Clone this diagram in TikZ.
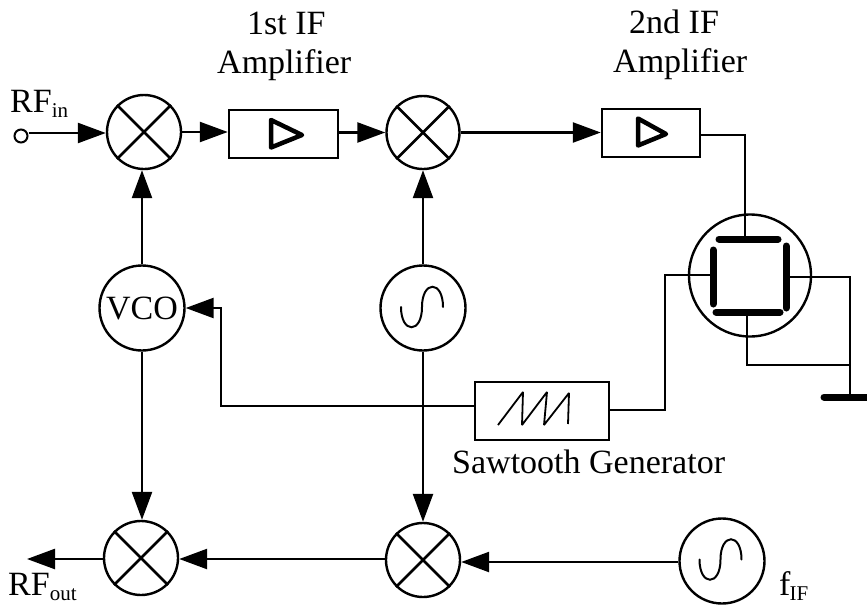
\documentclass[tikz,border=0pt]{standalone}
\usepackage{fontspec}
\setmainfont{Liberation Serif}
\usetikzlibrary{arrows.meta,calc}
\newcommand{\subt}[1]{\raisebox{-5pt}{\fontsize{21}{21}\selectfont #1}}
\tikzset{
  wire/.style={line width=2.5pt,line join=miter},
  arrowwire/.style={wire,-{Triangle[length=28pt,width=20pt]}},
  ring/.style={circle,draw,line width=2.4pt,inner sep=0pt,minimum size=#1},
  ampbox/.style={rectangle,draw,line width=2.5pt,inner sep=0pt},
  plate/.style={line width=7pt,line cap=round},
  lab/.style={inner sep=0pt,font=\fontsize{34}{34}\selectfont,anchor=base},
  tri/.style={line width=4.5pt,line join=round},
}
\newcommand{\crossring}[1]{%
  \draw[wire] (#1.45) -- (#1.225) (#1.135) -- (#1.315);}
\newcommand{\sine}[2]{%
  \draw[line width=2pt,line cap=round] (#1-21,#2) .. controls (#1-21,#2+27) and (#1,#2+27) .. (#1,#2) .. controls (#1,#2-27) and (#1+21,#2-27) .. (#1+21,#2);}
\begin{document}
\begin{tikzpicture}[x=1pt,y=-1pt]
\useasboundingbox (0,0) rectangle (867,605);
% mixers and sources
\node[ring=74pt] (m1) at (144,132) {};
\node[ring=73pt] (m2) at (423,132.5) {};
\node[ring=74pt] (m3) at (141,558) {};
\node[ring=74pt] (m4) at (423,560) {};
\node[ring=85pt,font=\fontsize{34}{34}\selectfont] (vco) at (142,308) {VCO};
\node[ring=85pt] (osc) at (423,308) {};
\node[ring=85pt] (oscb) at (722,561) {};
\crossring{m1}\crossring{m2}\crossring{m3}\crossring{m4}
\sine{422}{307}
\sine{720.5}{559.5}
% boxes
\node[ampbox,minimum width=109pt,minimum height=48pt] (amp1) at (283.5,134) {};
\node[ampbox,minimum width=98pt,minimum height=48pt] (amp2) at (651,133) {};
\node[ampbox,minimum width=134pt,minimum height=58pt] (saw) at (542,411) {};
\draw[tri] (271,120) -- (302,135) -- (271,147.5) -- cycle;
\draw[tri] (638,118.5) -- (666,134) -- (638,145.5) -- cycle;
\draw[line width=1.8pt,line join=bevel] (498,425) -- (523,392) -- (522,425) -- (547,392) -- (544,425) -- (569,393) -- (568,424);
% input terminal
\node[circle,draw,line width=2pt,inner sep=0pt,minimum size=13pt] (rfin) at (21,136) {};
% CRT
\node[ring=122pt] (crt) at (750,275.5) {};
\coordinate (pt) at (745,239);
\coordinate (pb) at (747,312);
\coordinate (pl) at (713,275);
\coordinate (pr) at (786,277);
\draw[plate] (719,239) -- (778,239);
\draw[plate] (716,312) -- (780,312);
\draw[plate] (713,250) -- (713,304);
\draw[plate] (786,246) -- (786,308);
\coordinate (gnd) at (850,397);
\draw[plate] (824,397) -- (875,397);
% signal path
\draw[arrowwire] (rfin.east |- 0,133) -- (m1.west |- 0,133);
\draw[arrowwire] (m1.east) -- (amp1.west |- m1.east);
\draw[arrowwire] (amp1.east |- m2.west) -- (m2.west);
\draw[arrowwire] (m2.east) -- (amp2.west |- m2.east);
\draw[arrowwire] (vco.north) -- (vco.north |- m1.south);
\draw[arrowwire] (osc.north) -- (m2.south);
\draw[arrowwire] (vco.south) -- (vco.south |- m3.north);
\draw[arrowwire] (osc.south) -- (m4.north);
\draw[arrowwire] (oscb.west |- 0,562) -- (m4.east |- 0,562);
\draw[arrowwire] (m4.west |- 0,559) -- (m3.east |- 0,559);
\coordinate (outend) at (27,559);
\draw[arrowwire] (m3.west |- outend) -- (outend);
% sweep
\coordinate (sweepin) at (vco.east);
\draw[arrowwire] (saw.west |- 0,406) -| (221,308) -- (sweepin);
\coordinate (sawcorner) at (665,410);
\draw[wire] (saw.east |- sawcorner) -- (sawcorner) |- (pl);
\draw[wire] (amp2.east |- 0,135) -| (pt);
\draw[wire] (pr) -| (gnd);
\draw[wire] (pb) |- (850,365);
% labels
\node[lab,anchor=base west] (t1) at (247,34) {1st IF};
\node[lab,anchor=base west] (t2) at (217,73) {Amplifier};
\node[lab,anchor=base west] (t3) at (629,33) {2nd IF};
\node[lab,anchor=base west] (t4) at (613,72) {Amplifier};
\node[lab,anchor=base west] (t5) at (452,473) {Sawtooth Generator};
\node[lab,anchor=base west] (t6) at (10,112) {RF\subt{in}};
\node[lab,anchor=base west] (t7) at (8,595) {RF\subt{out}};
\node[lab,anchor=base west] (t8) at (779,595) {f\kern-1pt\subt{IF}};
\end{tikzpicture}
\end{document}
